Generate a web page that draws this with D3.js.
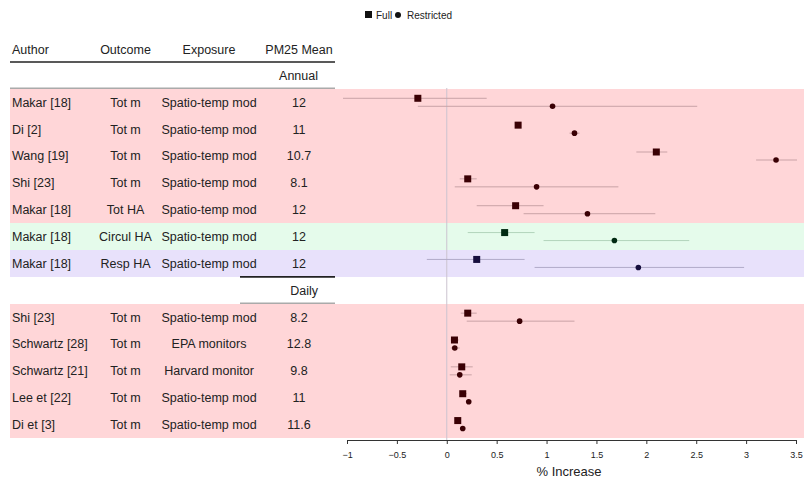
<!DOCTYPE html>
<html>
<head>
<meta charset="utf-8">
<script src="https://cdn.jsdelivr.net/npm/d3@7"></script>
<style>
  body { margin: 0; background: #fff; }
  text { font-family: "Liberation Sans", Arial, sans-serif; fill: #222; }
</style>
</head>
<body>
<svg id="chart" width="804" height="481"></svg>
<script>
// table columns
const authors = ["Makar [18]", "Di [2]", "Wang [19]", "Shi [23]", "Makar [18]", "Makar [18]", "Makar [18]",
                 "Shi [23]", "Schwartz [28]", "Schwartz [21]", "Lee et [22]", "Di et [3]"]
const outcomes = ["Tot m", "Tot m", "Tot m", "Tot m", "Tot HA", "Circul HA", "Resp HA",
                  "Tot m", "Tot m", "Tot m", "Tot m", "Tot m"]
const exposures = ["Spatio-temp mod", "Spatio-temp mod", "Spatio-temp mod", "Spatio-temp mod", "Spatio-temp mod",
                   "Spatio-temp mod", "Spatio-temp mod", "Spatio-temp mod", "EPA monitors", "Harvard monitor",
                   "Spatio-temp mod", "Spatio-temp mod"]
const pmMeans = ["12", "11", "10.7", "8.1", "12", "12", "12", "8.2", "12.8", "9.8", "11", "11.6"]
const groups = ["Annual", "Annual", "Annual", "Annual", "Annual", "Annual", "Annual",
                "Daily", "Daily", "Daily", "Daily", "Daily"]

// % increase, full model
const fullEst = [-0.29, 0.715, 2.10, 0.21, 0.69, 0.58, 0.30, 0.21, 0.077, 0.15, 0.16, 0.11]
const fullLo  = [-1.04, 0.70, 1.90, 0.13, 0.30, 0.21, -0.20, 0.14, 0.04, 0.04, 0.13, 0.08]
const fullHi  = [0.40, 0.73, 2.21, 0.30, 0.97, 0.88, 0.78, 0.30, 0.12, 0.26, 0.20, 0.14]
// % increase, restricted model
const restEst = [1.06, 1.28, 3.30, 0.90, 1.41, 1.68, 1.92, 0.73, 0.08, 0.13, 0.22, 0.16]
const restLo  = [-0.29, 1.23, 3.10, 0.08, 0.77, 0.97, 0.88, 0.20, 0.04, 0.03, 0.21, 0.15]
const restHi  = [2.51, 1.33, 3.51, 1.72, 2.09, 2.43, 2.98, 1.28, 0.13, 0.25, 0.23, 0.17]

const xTicks = [-1, -0.5, 0, 0.5, 1, 1.5, 2, 2.5, 3, 3.5]

const svg = d3.select("#chart")

// slots: group header + rows
const slots = []
groups.forEach((g, i) => {
    if (i === 0 || groups[i - 1] !== g) slots.push("h-" + g)
    slots.push("r-" + i)
})

const y = d3.scaleBand().domain(slots).range([62, 438])
const x = d3.scaleLinear().domain([-1, 3.5]).range([347, 796])

const bandColor = { "Tot m": "#ffd6d8", "Tot HA": "#ffd6d8", "Circul HA": "#e5fbeb", "Resp HA": "#e8e1fb" }
const markColor = { "Tot m": "#3a0004", "Tot HA": "#3a0004", "Circul HA": "#002a12", "Resp HA": "#160e3e" }
const lineColor = { "Tot m": "#c9a2a6", "Tot HA": "#c9a2a6", "Circul HA": "#b2d4bb", "Resp HA": "#b1aac8" }

const rows = authors.map((a, i) => ({
    i, author: a, outcome: outcomes[i], exposure: exposures[i], pm: pmMeans[i],
    fe: fullEst[i], fl: fullLo[i], fh: fullHi[i],
    re: restEst[i], rl: restLo[i], rh: restHi[i]
}))

// row bands (slightly overlapped so no seams show)
svg.selectAll(".band")
    .data(rows)
    .enter()
    .append("rect")
    .attr("x", 10)
    .attr("y", d => Math.round(y("r-" + d.i)))
    .attr("width", 794)
    .attr("height", d => Math.round(y("r-" + d.i) + y.bandwidth()) - Math.round(y("r-" + d.i)))
    .attr("shape-rendering", "crispEdges")
    .style("fill", d => bandColor[d.outcome])

// header
const cols = [
    { name: "Author", x: 12, anchor: "start", key: "author" },
    { name: "Outcome", x: 125.5, anchor: "middle", key: "outcome" },
    { name: "Exposure", x: 209, anchor: "middle", key: "exposure" },
    { name: "PM25 Mean", x: 299, anchor: "middle", key: "pm" }
]

svg.selectAll(".colhead")
    .data(cols)
    .enter()
    .append("text")
    .attr("x", d => d.x)
    .attr("y", 50)
    .attr("dy", "0.35em")
    .attr("text-anchor", d => d.anchor)
    .style("font-size", "12.5px")
    .text(d => d.name)

// group headers
const heads = slots.filter(s => s.startsWith("h-"))
heads.forEach(h => {
    const top = y(h)
    svg.append("line")
        .attr("x1", h === "h-Annual" ? 10 : 240).attr("x2", 335)
        .attr("y1", top).attr("y2", top)
        .style("stroke", "#222").style("stroke-width", 1.6)
    svg.append("line")
        .attr("x1", 240).attr("x2", 335)
        .attr("y1", top + y.bandwidth() - 0.5).attr("y2", top + y.bandwidth() - 0.5)
        .style("stroke", "#aaa").style("stroke-width", 1.5)
    svg.append("text")
        .attr("x", 318)
        .attr("y", top + y.bandwidth() / 2)
        .attr("dy", "0.35em")
        .attr("text-anchor", "end")
        .style("font-size", "12.5px")
        .text(h.slice(2))
})
// first gray line runs the full table width
svg.append("line")
    .attr("x1", 10).attr("x2", 240)
    .attr("y1", y("h-Annual") + y.bandwidth() - 0.5).attr("y2", y("h-Annual") + y.bandwidth() - 0.5)
    .style("stroke", "#aaa").style("stroke-width", 1.5)

// table cells
cols.forEach(c => {
    svg.selectAll(".cell-" + c.key)
        .data(rows)
        .enter()
        .append("text")
        .attr("x", c.x)
        .attr("y", d => y("r-" + d.i) + y.bandwidth() / 2)
        .attr("dy", "0.35em")
        .attr("text-anchor", c.anchor)
        .style("font-size", "12.5px")
        .text(d => d[c.key])
})

// zero line
svg.append("line")
    .attr("x1", x(0)).attr("x2", x(0))
    .attr("y1", 88).attr("y2", 440)
    .style("stroke", "#cbc3cf").style("stroke-width", 1)

// CI lines
svg.selectAll(".ciF")
    .data(rows)
    .enter()
    .append("line")
    .attr("x1", d => x(d.fl)).attr("x2", d => x(d.fh))
    .attr("y1", d => y("r-" + d.i) + y.bandwidth() / 2 - 4)
    .attr("y2", d => y("r-" + d.i) + y.bandwidth() / 2 - 4)
    .style("stroke", d => lineColor[d.outcome]).style("stroke-width", 1)

svg.selectAll(".ciR")
    .data(rows)
    .enter()
    .append("line")
    .attr("x1", d => x(d.rl)).attr("x2", d => x(d.rh))
    .attr("y1", d => y("r-" + d.i) + y.bandwidth() / 2 + 4)
    .attr("y2", d => y("r-" + d.i) + y.bandwidth() / 2 + 4)
    .style("stroke", d => lineColor[d.outcome]).style("stroke-width", 1)

// points
const sq = 7
svg.selectAll(".full")
    .data(rows)
    .enter()
    .append("rect")
    .attr("x", d => x(d.fe) - sq / 2)
    .attr("y", d => y("r-" + d.i) + y.bandwidth() / 2 - 4 - sq / 2)
    .attr("width", sq)
    .attr("height", sq)
    .style("fill", d => markColor[d.outcome])

svg.selectAll(".rest")
    .data(rows)
    .enter()
    .append("circle")
    .attr("cx", d => x(d.re))
    .attr("cy", d => y("r-" + d.i) + y.bandwidth() / 2 + 4)
    .attr("r", 2.8)
    .style("fill", d => markColor[d.outcome])

// x axis
const axis = svg.append("g")
    .attr("transform", "translate(0,440)")
    .call(d3.axisBottom(x).tickValues(xTicks).tickSize(4).tickSizeOuter(0).tickFormat(d3.format("")))
axis.select(".domain").style("stroke", "#333")
axis.selectAll(".tick line").style("stroke", "#333")
axis.selectAll(".tick text").style("font-size", "9px").style("fill", "#222").attr("dy", "1.2em")

svg.append("text")
    .attr("x", 569)
    .attr("y", 471)
    .attr("dy", "0.35em")
    .attr("text-anchor", "middle")
    .style("font-size", "13px")
    .text("% Increase")

// legend
svg.append("rect").attr("x", 365).attr("y", 11).attr("width", 7).attr("height", 7).style("fill", "#111")
svg.append("text").attr("x", 376).attr("y", 15).attr("dy", "0.35em").style("font-size", "10px").text("Full")
svg.append("circle").attr("cx", 398).attr("cy", 15).attr("r", 3).style("fill", "#111")
svg.append("text").attr("x", 407).attr("y", 15).attr("dy", "0.35em").style("font-size", "10px").text("Restricted")
</script>
</body>
</html>
